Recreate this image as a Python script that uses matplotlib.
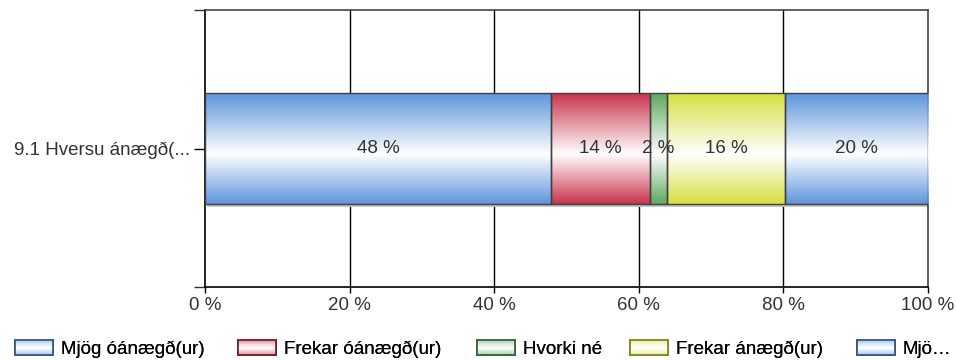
import numpy as np
import matplotlib.pyplot as plt
from matplotlib.colors import LinearSegmentedColormap
from matplotlib.patches import Rectangle
from matplotlib.legend_handler import HandlerPatch

question = "9.1 Hversu ánægð(..."
categories = ["Mjög óánægð(ur)", "Frekar óánægð(ur)", "Hvorki né", "Frekar ánægð(ur)", "Mjö…"]
values = [47.9, 13.6, 2.4, 16.3, 19.8]
labels = ["48 %", "14 %", "2 %", "16 %", "20 %"]
colors = ["#5e95dc", "#c8344c", "#5fa860", "#d6e040", "#5e95dc"]
xticks = [0, 20, 40, 60, 80, 100]

FONT = "Liberation Sans"
FS = 13.5
# left edge (px) of each legend entry
legend_x = [15, 238, 477, 630, 857]


def grad_cmap(c):
    return LinearSegmentedColormap.from_list("g", [(0, c), (0.55, "#ffffff"), (1, c)])


def gradient_fill(ax, x0, w, y0, h, c):
    grad = np.linspace(0, 1, 256).reshape(-1, 1)
    im = ax.imshow(grad, cmap=grad_cmap(c), aspect="auto",
                   extent=(x0, x0 + w, y0 + h, y0), zorder=3,
                   interpolation="bilinear")
    rect = Rectangle((x0, y0), w, h, transform=ax.transData)
    im.set_clip_path(rect)


class GradHandler(HandlerPatch):
    def create_artists(self, legend, orig_handle, xdescent, ydescent,
                       width, height, fontsize, trans):
        c = orig_handle.get_edgecolor()
        arts = []
        n = 14
        for i in range(n):
            t = abs((i + 0.5) / n - 0.5) * 2
            col = np.array(c[:3]) * t * 0.55 + np.ones(3) * (1 - t * 0.55)
            r = Rectangle((-xdescent, -ydescent + height * i / n), width,
                          height / n + 0.3, facecolor=col, edgecolor="none",
                          transform=trans)
            arts.append(r)
        border = Rectangle((-xdescent, -ydescent), width, height,
                           facecolor="none", edgecolor=np.array(c[:3]) * 0.6,
                           lw=1.3, transform=trans)
        arts.append(border)
        return arts


fig = plt.figure(figsize=(9.56, 3.6), dpi=100)
ax = fig.add_axes([205 / 956, 1 - 287 / 360, 723 / 956, 277 / 360])

ax.set_xlim(0, 100)
ax.set_ylim(0.5, -0.5)
bar_h = 0.4
left = 0
for v, c, lab in zip(values, colors, labels):
    # shadow
    ax.add_patch(Rectangle((left + 0.3, -bar_h / 2 + 0.012), v, bar_h,
                           facecolor="#c4c4c4", edgecolor="none", zorder=2))
    gradient_fill(ax, left, v, -bar_h / 2, bar_h, c)
    ax.add_patch(Rectangle((left, -bar_h / 2), v, bar_h, facecolor="none",
                           edgecolor="#404040", lw=1.0, zorder=4))
    ax.text(left + v / 2, 0, lab, ha="center", va="center", fontsize=FS,
            color="#333333", zorder=5, family=FONT)
    left += v

for x in xticks[1:-1]:
    ax.axvline(x, color="black", lw=1.0, zorder=1)

ax.set_xticks(xticks)
ax.set_xticklabels([f"{x} %" for x in xticks], family=FONT,
                   fontsize=FS, color="#333333")
ax.set_yticks([0])
ax.set_yticklabels([question], family=FONT, fontsize=FS, color="#333333")
ax.set_yticks([-0.5, 0.5], minor=True)
ax.tick_params(axis="y", which="major", length=8, width=1, color="black", pad=3)
ax.tick_params(axis="y", which="minor", length=8, width=1, color="#333333")
ax.tick_params(axis="x", length=4, width=1, pad=3)

for s in ["top", "right"]:
    ax.spines[s].set_color("#444444")
    ax.spines[s].set_linewidth(1.2)
ax.spines["left"].set_linewidth(1.2)
ax.spines["bottom"].set_linewidth(1.2)

# one legend per entry so the spacing follows the reference
for cat, c, lx in zip(categories, colors, legend_x):
    h = Rectangle((0, 0), 1, 1, edgecolor=c, facecolor="white")
    leg = fig.legend([h], [cat], loc="center left",
                     bbox_to_anchor=(lx / 956, 1 - 349 / 360), frameon=False,
                     prop={"family": FONT, "size": FS},
                     handler_map={Rectangle: GradHandler()},
                     handlelength=2.0, handleheight=0.9,
                     handletextpad=0.45, borderpad=0, borderaxespad=0)
    fig.add_artist(leg)

fig.savefig("out.png", dpi=100)
